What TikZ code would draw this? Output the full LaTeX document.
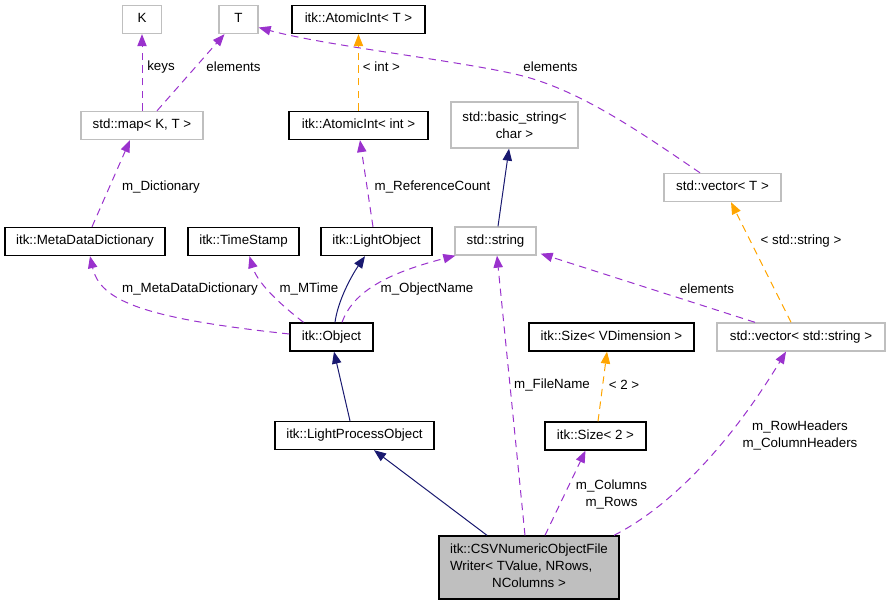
\documentclass[tikz,border=0pt]{standalone}
\usepackage{fontspec}
\setmainfont{Liberation Sans}
\usepackage{tikz}
\usetikzlibrary{arrows.meta,calc}

\definecolor{edgepurple}{HTML}{9A32CD}
\definecolor{edgenavy}{HTML}{191970}
\definecolor{edgeorange}{HTML}{FFA500}
\definecolor{boxgray}{HTML}{BFBFBF}

\begin{document}
\begin{tikzpicture}[
    x=0.75pt,
    y=-0.75pt,
    boxbase/.style={
        draw=black,
        line width=1pt,
        minimum height=21pt,
        inner sep=1pt
    },
    clsbox/.style={
        boxbase,
        text height=0.72em,
        text depth=0.22em
    },
    extbox/.style={
        clsbox,
        draw=boxgray
    },
    edge/.style={
        line width=0.75pt,
        -{Triangle[length=9pt,width=7pt]}
    },
    member/.style={
        edge,
        color=edgepurple,
        dash pattern=on 5.5pt off 4pt
    },
    tmpl/.style={
        edge,
        color=edgeorange,
        dash pattern=on 5.5pt off 4pt
    },
    inherit/.style={
        edge,
        color=edgenavy
    },
    lbl/.style={
        inner sep=0pt,
        align=center,
        font=\fontsize{10}{12.75}\selectfont
    }
]

\useasboundingbox (0,0) rectangle (889,605);


\node[extbox, minimum width=29.25pt] (K) at (142,19.5) {K};
\node[extbox, minimum width=29.25pt] (T) at (238.5,19.5) {T};
\node[clsbox, minimum width=99.75pt] (ait) at (358.5,19.5) {itk::AtomicInt< T >};

\node[extbox, minimum width=91.5pt] (map) at (142,125.5) {std::map< K, T >};
\node[clsbox, minimum width=104.25pt] (aiint) at (358.5,125.5) {itk::AtomicInt< int >};
\node[boxbase, draw=boxgray, minimum width=95.25pt, minimum height=34.5pt,
      align=center, font=\fontsize{10}{12.75}\selectfont]
    (bstr) at (514.5,125) {std::basic\_string<\\char >};

\node[extbox, minimum width=87.75pt] (vect) at (722.5,187.5) {std::vector< T >};

\node[clsbox, minimum width=120pt] (mdd) at (85,241.5) {itk::MetaDataDictionary};
\node[clsbox, minimum width=83.25pt] (ts) at (243.5,241.5) {itk::TimeStamp};
\node[clsbox, minimum width=83.25pt] (lobj) at (376.5,241.5) {itk::LightObject};
\node[extbox, minimum width=60.75pt] (str) at (495.5,241) {std::string};

\node[clsbox, minimum width=62.25pt] (obj) at (331.5,337) {itk::Object};
\node[clsbox, minimum width=123.75pt] (szv) at (611.5,337) {itk::Size< VDimension >};
\node[extbox, minimum width=126pt] (vstr) at (801,337) {std::vector< std::string >};

\node[clsbox, minimum width=119.25pt] (lpo) at (354.5,435.5) {itk::LightProcessObject};
\node[clsbox, minimum width=75.75pt] (sz) at (595.5,436) {itk::Size< 2 >};

\node[boxbase, fill=boxgray, minimum width=135pt, minimum height=47.25pt]
    (csv) at (529,567.5)
    {\def\arraystretch{1.06}\begin{tabular}{@{}l@{}}
     itk::CSVNumericObjectFile\\
     Writer< TValue, NRows,\\
     \multicolumn{1}{@{}c@{}}{NColumns >}
     \end{tabular}};


\draw[member] (map.north) -- (K.south);
\draw[member] ($(map.north)+(15,0)$) -- ($(T.south)+(-14,0)$);
\draw[tmpl] (aiint.north) -- (ait.south);
\draw[member] ($(vect.north)+(-22.5,0)$)
    .. controls (643,134) and (587,95) .. (530,78)
    .. controls (480,63) and (330,47) .. ($(T.east)+(0,8)$);

\node[lbl] (lkeys) at (161,67) {keys};
\node[lbl] (lelemT) at (233.5,67) {elements};
\node[lbl] (lint) at (381.5,67) {< int >};
\node[lbl] (lelemV) at (550.5,67) {elements};


\draw[member] ($(mdd.north)+(7,0)$) -- ($(map.south)+(-12,0)$);
\draw[member] ($(lobj.north)+(-3.5,0)$) -- ($(aiint.south)+(1.5,0)$);
\draw[inherit] ($(str.north)+(2.5,0)$) -- ($(bstr.south)+(-5.5,0)$);
\draw[tmpl] ($(vstr.north)+(-10,0)$) -- ($(vect.south)+(8.5,0)$);

\node[lbl] (ldict) at (161,187) {m\_Dictionary};
\node[lbl] (lref) at (432.5,187) {m\_ReferenceCount};
\node[lbl] (lstd) at (801,241) {< std::string >};


\draw[member] ($(obj.west)+(0,-3)$)
    .. controls (140,318) and (100,300) ..
    ($(mdd.south)+(5,0)$);
\draw[member] ($(obj.north)+(-28,0)$)
    .. controls (285,308) and (258,285) ..
    ($(ts.south)+(6,0)$);
\draw[inherit] ($(obj.north)+(3.5,0)$)
    .. controls (338,300) and (352,275) ..
    ($(lobj.south)+(-11.5,0)$);
\draw[member] ($(obj.north)+(10.5,0)$)
    .. controls (352,295) and (380,275) ..
    ($(str.south west)+(1,0)$);
\draw[member] ($(vstr.north)+(-46,0)$) -- ($(str.south east)+(4,-2)$);

\node[lbl] (lmdd) at (190,289) {m\_MetaDataDictionary};
\node[lbl] (lmtime) at (309,289) {m\_MTime};
\node[lbl] (lname) at (427,289) {m\_ObjectName};
\node[lbl] (lelemS) at (707,289) {elements};


\draw[inherit] ($(lpo.north)+(-4.5,0)$) -- ($(obj.south)+(2.5,0)$);
\draw[inherit] ($(csv.north)+(-42,0)$) -- ($(lpo.south)+(19.5,0)$);
\draw[member] ($(csv.north)+(-4,0)$) -- ($(str.south)+(1.5,0)$);
\draw[member] ($(csv.north)+(16,0)$) -- ($(sz.south)+(-10,0)$);
\draw[member] ($(csv.north)+(85,0)$)
    .. controls (660,512) and (720,460) ..
    ($(vstr.south)+(-15,0)$);
\draw[tmpl] ($(sz.north)+(2.5,0)$) -- ($(szv.south)+(-4.5,0)$);

\node[lbl] (lfile) at (552,385) {m\_FileName};
\node[lbl] (ltwo) at (624,385) {< 2 >};
\node[lbl] (lcols) at (611.5,494) {m\_Columns\\m\_Rows};
\node[lbl] (lhead) at (800,435) {m\_RowHeaders\\m\_ColumnHeaders};

\end{tikzpicture}
\end{document}
